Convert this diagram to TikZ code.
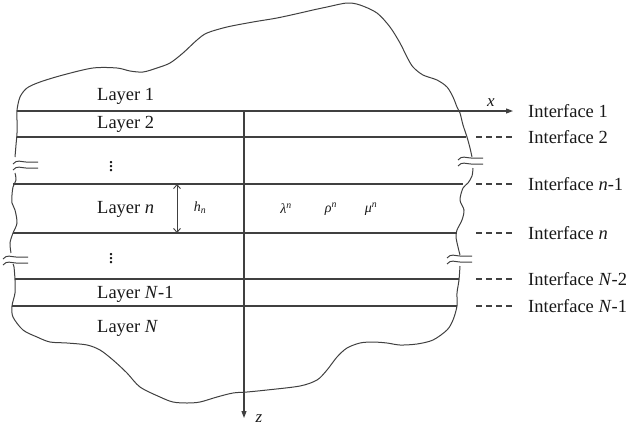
\documentclass[tikz,border=0pt]{standalone}
\usepackage{fontspec}
\setmainfont{Liberation Serif}
\usetikzlibrary{arrows.meta}

\tikzset{
  lyr/.style={anchor=west, inner sep=0pt, text=black!90, font=\fontsize{18.5}{21}\selectfont},
  ifc/.style={anchor=west, inner sep=0pt, text=black!90, font=\fontsize{18.5}{21}\selectfont},
  prm/.style={inner sep=0pt, text=black!90, font=\fontsize{14}{16}\selectfont},
  edge/.style={draw=black!75, line width=1.1pt},
  rim/.style={draw=black!75, line width=1pt},
  brkmark/.pic={
    \draw[rim] (-13,-1) .. controls (-9,-6) and (-5,-3) .. (0,-3) -- (12,-3);
    \draw[rim] (-13,5) .. controls (-9,0) and (-5,3) .. (0,3) -- (12,3);
  }
}

\begin{document}
\begin{tikzpicture}[x=1pt, y=-1pt]
  \useasboundingbox (0,0) rectangle (629,426);

  % outline of the medium
  \draw[rim] plot[smooth] coordinates {(15,157) (16,145) (17,133) (17,120) (17,110)
    (20,97) (27,88) (40,82) (63,75) (93,68) (117,68) (130,71) (143,72) (157,68)
    (170,63) (183,53) (197,40) (207,33) (227,27) (253,22) (277,18) (300,13)
    (313,10) (327,7) (347,3) (360,5) (377,13) (390,27) (400,43) (407,57)
    (413,67) (423,75) (437,80) (447,87) (453,97) (457,107) (460,113) (463,125)
    (467,137) (470,148) (472,157)};
  \draw[rim] plot[smooth] coordinates {(473,168) (472,176) (468,183) (463,188)
    (460,200) (464,210) (462,220) (457,230) (456,237) (458,247) (460,255)};
  \draw[rim] plot[smooth] coordinates {(460,266) (459,280) (457,293) (457,306)
    (453,320) (447,330) (433,340) (417,344) (400,345) (387,343) (373,342)
    (360,343) (347,348) (337,357) (327,370) (317,380) (300,386) (267,390)
    (247,392) (233,393) (217,397) (200,402) (187,403) (173,402) (160,397)
    (140,387) (127,373) (113,360) (100,350) (87,345) (67,343) (50,342)
    (37,337) (23,330) (13,317) (12,306) (15,293) (15,280) (14,267) (13,264)};
  \draw[rim] plot[smooth] coordinates {(11,253) (10,243) (13,233) (17,223)
    (15,210) (12,203) (12,195) (13,187) (16,180) (15,173)};

  \pic at (26,165) {brkmark};
  \pic at (16,260) {brkmark};
  \pic at (471,161) {brkmark};
  \pic at (460,259) {brkmark};

  % interfaces
  \coordinate (L1) at (17,111);
  \coordinate (xtip) at (513,111);
  \draw[edge, -{Triangle[length=7pt, width=5pt]}] (L1) -- (xtip);
  \node[ifc] (if1) at (528,111) {Interface 1};
  \node[prm, font=\fontsize{17}{19}\selectfont] (xlab) at (491,103) {\textit{x}};

  \foreach \i/\y/\xl/\xr/\txt in {
      2/137/17/466/{Interface 2},
      3/184/13/463/{Interface \textit{n}-1},
      4/233/13/457/{Interface \textit{n}},
      5/279/15/459/{Interface \textit{N}-2},
      6/306/12/457/{Interface \textit{N}-1}} {
    \coordinate (L\i) at (\xl,\y);
    \coordinate (R\i) at (\xr,\y);
    \draw[edge] (L\i) -- (R\i);
    \node[ifc] (if\i) at (528,\y) {\txt};
    \draw[edge, dash pattern=on 6pt off 4pt]
      ([xshift=-52pt]if\i.west) -- ([xshift=-15pt]if\i.west);
  }

  % z axis
  \coordinate (zo) at (244,111);
  \coordinate (ztip) at (244,418);
  \draw[edge, -{Triangle[length=7pt, width=5pt]}] (zo) -- (ztip);
  \node[prm, font=\fontsize{17}{19}\selectfont] (zlab) at (259,419) {\textit{z}};

  % thickness of layer n
  \coordinate (hT) at (177,184);
  \coordinate (hB) at (177,233);
  \draw[edge, line width=0.9pt, {Straight Barb[length=4pt, width=7pt]}-{Straight Barb[length=4pt, width=7pt]}] (hT) -- (hB);
  \node[prm] (hn) at (200,208) {\textit{h}\textsubscript{\textit{n}}};

  \node[prm] (lam) at (286,209) {\textit{λ}\textsuperscript{\textit{n}}};
  \node[prm] (rho) at (331,209) {\textit{ρ}\textsuperscript{\textit{n}}};
  \node[prm] (mu) at (371,209) {\textit{μ}\textsuperscript{\textit{n}}};

  % layers
  \node[lyr] (lay1) at (97,96) {Layer 1};
  \node[lyr] (lay2) at (97,124) {Layer 2};
  \node[prm] (dots1) at (111,164) {\fontsize{20}{22}\selectfont$\vdots$};
  \node[lyr] (layn) at (97,209) {Layer \textit{n}};
  \node[prm] (dots2) at (111,256) {\fontsize{20}{22}\selectfont$\vdots$};
  \node[lyr] (layNm) at (97,294) {Layer \textit{N}-1};
  \node[lyr] (layN) at (97,328) {Layer \textit{N}};
\end{tikzpicture}
\end{document}
